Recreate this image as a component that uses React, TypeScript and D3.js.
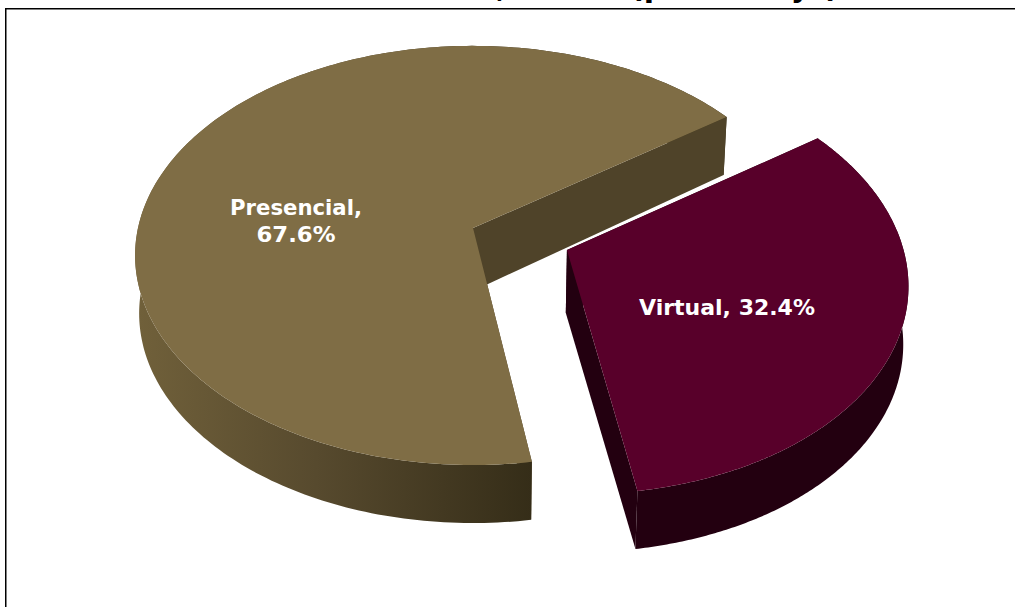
import React from "react";
import * as d3 from "d3";

const categories = ["Presencial", "Virtual"];
const shares = [67.6, 32.4];
const explode = [0, 0.296];
const rimShift = [0, -0.009];
const rimStartTrim = [0, 0.9];
const topColors = ["#7f6d45", "#58002a"];
const cutColors = ["#4f4329", "#230010"];
const labelLines = [["Presencial,", "67.6%"], ["Virtual, 32.4%"]];
const labelWidths = [[132, 79], [176]];
const labelAnchors = [[296, 215], [727, 315]];
const titleFragments = [
  { text: ",", x: 496 },
  { text: "(porcentaje)", x: 630 },
];

const W = 1015;
const H = 607;
const DEG = Math.PI / 180;
const FIRST_ANGLE = 171.2 * DEG;
const EXPLODE_DIR = 110.9 * DEG;
const PERSPECTIVE = 0.131;
const DEPTH = 58;
const APEX_DEPTH = 63;
const BOTTOM_SHRINK = 0.988;

// plane coordinates -1..1 to screen
const xScale = d3.scaleLinear().domain([-1, 1]).range([473 - 335, 473 + 335]);
const yScale = d3.scaleLinear().domain([-1, 1]).range([228 + 206, 228 - 206]);

type Pt = [number, number];

function project(X: number, Y: number): Pt {
  const w = 1 + PERSPECTIVE * Y;
  return [xScale(X / w), yScale(Y / w)];
}
function drop([x, y]: Pt, depth: number = DEPTH): Pt {
  const cx = xScale(0);
  return [cx + (x - cx) * BOTTOM_SHRINK, y + depth];
}

const pie = d3
  .pie<number>()
  .sort(null)
  .startAngle(FIRST_ANGLE)
  .endAngle(FIRST_ANGLE + 2 * Math.PI);
const arcs = pie(shares);
const line = d3.line<Pt>();

const slices = arcs.map((a, i) => {
  const ox = explode[i] * Math.sin(EXPLODE_DIR);
  const oy = explode[i] * Math.cos(EXPLODE_DIR);
  const start = a.startAngle + rimStartTrim[i] * DEG;
  const rim: Pt[] = d3
    .range(0, 241)
    .map((k) => start + ((a.endAngle - start) * k) / 240)
    .map((t) => project(ox + rimShift[i] + Math.sin(t), oy + Math.cos(t)));
  const apex = project(ox, oy);
  const top = line([apex, ...rim])! + "Z";
  const wall = line([...rim, ...rim.map((p) => drop(p)).reverse()])! + "Z";
  const cut = (p: Pt) => line([apex, p, drop(p), drop(apex, APEX_DEPTH)])! + "Z";
  return { top, wall, cutA: cut(rim[0]), cutB: cut(rim[rim.length - 1]) };
});

export default function App() {
  return (
    <svg
      width={W}
      height={H}
      style={{ position: "fixed", left: 0, top: 0, display: "block", background: "#fff" }}
      fontFamily="'DejaVu Sans', Verdana, sans-serif"
      fontWeight="bold"
    >
      <defs>
        <linearGradient id="wallMain" gradientUnits="userSpaceOnUse" x1={139} x2={532} y1={0} y2={0}>
          <stop offset="0" stopColor="#70603a" />
          <stop offset="0.45" stopColor="#574a2e" />
          <stop offset="1" stopColor="#352d18" />
        </linearGradient>
      </defs>
      {titleFragments.map((t) => (
        <text key={t.text} x={t.x} y={-3} fontSize={30} fill="#000">
          {t.text}
        </text>
      ))}
      <rect x={5.75} y={8.75} width={W + 20} height={H + 20} fill="#fff" stroke="#000" strokeWidth={1.5} />
      {slices.map((s, i) => (
        <g key={categories[i]}>
          <path d={s.cutA} fill={cutColors[i]} />
          <path d={s.wall} fill={i === 0 ? "url(#wallMain)" : cutColors[i]} />
          <path d={s.cutB} fill={cutColors[i]} />
          <path d={s.top} fill={topColors[i]} />
        </g>
      ))}
      {labelLines.map((lines, i) =>
        lines.map((l, j) => (
          <text
            key={l}
            x={labelAnchors[i][0]}
            y={labelAnchors[i][1] + j * 26.5}
            textAnchor="middle"
            fontSize={21}
            fill="#fff"
            textLength={labelWidths[i][j]}
            lengthAdjust="spacingAndGlyphs"
          >
            {l}
          </text>
        ))
      )}
    </svg>
  );
}
